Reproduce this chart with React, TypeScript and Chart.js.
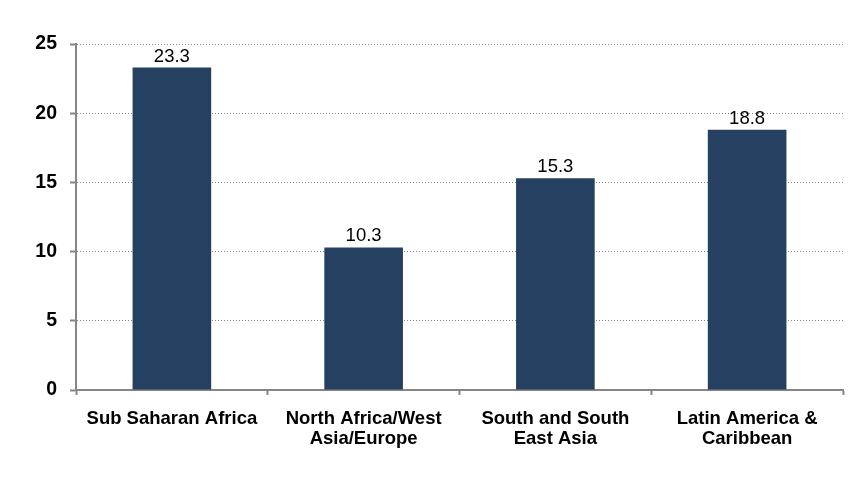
import React, { useEffect, useRef } from "react";
import { Chart, registerables } from "chart.js";

Chart.register(...registerables);

const categories: string[][] = [
  ["Sub Saharan Africa"],
  ["North Africa/West", "Asia/Europe"],
  ["South and South", "East Asia"],
  ["Latin America &", "Caribbean"],
];
const values: number[] = [23.3, 10.3, 15.3, 18.8];
const yTicks: number[] = [0, 5, 10, 15, 20, 25];

const FONT = "Arial, 'Liberation Sans', sans-serif";

const valueLabels = {
  id: "valueLabels",
  afterDatasetsDraw(chart: any) {
    const ctx = chart.ctx;
    const meta = chart.getDatasetMeta(0);
    ctx.save();
    ctx.font = `18.5px ${FONT}`;
    ctx.fillStyle = "#000";
    ctx.textAlign = "center";
    ctx.textBaseline = "alphabetic";
    meta.data.forEach((bar: any, i: number) => {
      ctx.fillText(values[i].toFixed(1), bar.x, bar.y - 6);
    });
    ctx.restore();
  },
};

export default function App() {
  const ref = useRef<HTMLCanvasElement | null>(null);
  useEffect(() => {
    if (!ref.current) return;
    const chart = new Chart(ref.current, {
      type: "bar",
      data: {
        labels: categories,
        datasets: [
          {
            data: values,
            backgroundColor: "#254061",
            barPercentage: 0.41,
            categoryPercentage: 1,
          },
        ],
      },
      options: {
        animation: false,
        responsive: false,
        maintainAspectRatio: false,
        layout: { padding: { top: 44, right: 18, left: 0, bottom: 0 } },
        plugins: { legend: { display: false }, tooltip: { enabled: false } },
        scales: {
          x: {
            offset: true,
            grid: {
              offset: true,
              drawOnChartArea: false,
              drawTicks: true,
              tickLength: 5,
              tickColor: "#868686",
              tickWidth: 2,
              color: "#868686",
            },
            border: { display: true, color: "#868686", width: 2 },
            ticks: {
              color: "#000",
              font: { family: FONT, size: 18.5, weight: "bold", lineHeight: 1.13 },
              padding: 13,
              maxRotation: 0,
              autoSkip: false,
            },
            afterFit(scale: any) {
              scale.height = 98;
            },
          },
          y: {
            min: 0,
            max: 25,
            afterBuildTicks(scale: any) {
              scale.ticks = yTicks.map((v) => ({ value: v }));
            },
            grid: {
              color: "#888888",
              lineWidth: 1,
              tickLength: 6,
              tickColor: "#868686",
              tickWidth: 2,
              tickBorderDash: [],
            },
            border: { display: true, color: "#868686", width: 2, dash: [1, 2] },
            ticks: {
              color: "#000",
              font: { family: FONT, size: 19.5, weight: "bold" },
              padding: 13,
            },
            afterFit(scale: any) {
              scale.width = 76;
            },
          },
        },
      },
      plugins: [valueLabels],
    });
    return () => chart.destroy();
  }, []);
  return (
    <div style={{ position: "fixed", left: 0, top: 0, width: 861, height: 488, background: "#fff" }}>
      <canvas ref={ref} width={861} height={488} style={{ width: 861, height: 488 }} />
    </div>
  );
}
